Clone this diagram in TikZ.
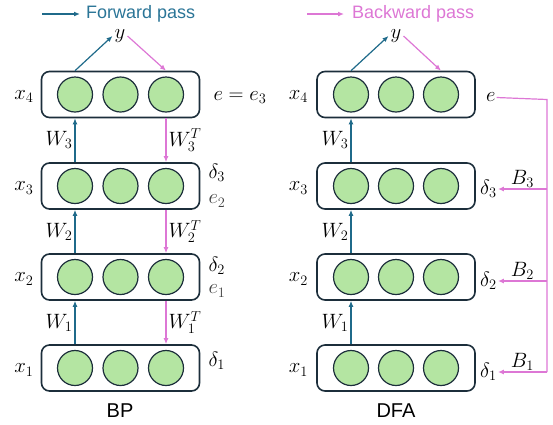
\documentclass[tikz,border=0pt]{standalone}
\usepackage{fontspec}
\setsansfont{Liberation Sans}
\usetikzlibrary{arrows.meta,positioning,calc}
\definecolor{fwd}{HTML}{1F6A8A}
\definecolor{fwdtxt}{HTML}{2B7597}
\definecolor{bwd}{HTML}{DD77D5}
\definecolor{cfill}{HTML}{B4E5A2}
\definecolor{edge}{HTML}{1C2E3B}
\definecolor{ecol}{HTML}{404040}
\begin{document}
\begin{tikzpicture}[x=1pt,y=-1pt,
  layer/.style={draw=edge,line width=1.6pt,rounded corners=8pt,minimum width=158pt,minimum height=46pt,inner sep=0pt},
  neuron/.style={circle,draw=edge,fill=cfill,line width=1.2pt,minimum size=35pt,inner sep=0pt},
  lbl/.style={font=\fontsize{20}{24}\selectfont,inner sep=1pt},
  fwdarr/.style={draw=fwd,line width=1.2pt,-{Latex[length=6pt,width=5pt]}},
  bwdarr/.style={draw=bwd,line width=1.2pt,-{Latex[length=6pt,width=5pt]}},
  bwdline/.style={draw=bwd,line width=1.2pt},
  ttl/.style={font=\sffamily\fontsize{18}{21}\selectfont,inner sep=0pt},
  captxt/.style={font=\sffamily\fontsize{20}{24}\selectfont,inner sep=0pt}]
\useasboundingbox (0,0) rectangle (553,424);

% layers
\foreach \i/\y in {4/94.5,3/186,2/277,1/368} {
  \node[layer] (L\i) at (120.5,\y) {};
  \node[neuron] (L\i-a) at (75,\y) {};
  \node[neuron] (L\i-b) at (120.5,\y) {};
  \node[neuron] (L\i-c) at (166,\y) {};
  \node[lbl,anchor=east] at ($(L\i.west)+(-6,2)$) {$x_\i$};
  \node[layer] (R\i) at (396,\y) {};
  \node[neuron] (R\i-a) at (351,\y) {};
  \node[neuron] (R\i-b) at (396,\y) {};
  \node[neuron] (R\i-c) at (441,\y) {};
  \node[lbl,anchor=east] at ($(R\i.west)+(-7,2)$) {$x_\i$};
}

% legend
\node[ttl,anchor=west,text=fwdtxt] (fp) at (86,14) {Forward pass};
\coordinate (fps) at (42,14);
\draw[fwdarr] (fps) -- ($(fp.west)+(-6,0)$);
\node[ttl,anchor=west,text=bwd] (bp) at (352,14) {Backward pass};
\coordinate (bps) at (307,14);
\draw[bwdarr] (bps) -- ($(bp.west)+(-8,0)$);

% outputs
\node[lbl,inner sep=2pt] (yL) at (120,36) {$y$};
\draw[fwdarr] (L4-a |- L4.north) -- (yL.west);
\draw[bwdarr] (yL.east) -- (L4-c |- L4.north);
\node[lbl,inner sep=2pt] (yR) at (396,36) {$y$};
\draw[fwdarr] (R4-a |- R4.north) -- (yR.west);
\draw[bwdarr] (yR.east) -- (R4-c |- R4.north);

% BP forward / backward
\draw[fwdarr] (L3-a |- L3.north) -- node[lbl,left=1pt] {$W_3$} (L4-a |- L4.south);
\draw[fwdarr] (L2-a |- L2.north) -- node[lbl,left=1pt] {$W_2$} (L3-a |- L3.south);
\draw[fwdarr] (L1-a |- L1.north) -- node[lbl,left=1pt] {$W_1$} (L2-a |- L2.south);
\draw[bwdarr] (L4-c |- L4.south) -- node[lbl,right=1pt] {$W_3^T$} (L3-c |- L3.north);
\draw[bwdarr] (L3-c |- L3.south) -- node[lbl,right=1pt] {$W_2^T$} (L2-c |- L2.north);
\draw[bwdarr] (L2-c |- L2.south) -- node[lbl,right=1pt] {$W_1^T$} (L1-c |- L1.north);

\node[lbl,anchor=west] at ($(L4.east)+(12,3)$) {$e = e_3$};
\node[lbl,anchor=west] at ($(L3.east)+(7,-13)$) {$\delta_3$};
\node[lbl,anchor=west,text=ecol] at ($(L3.east)+(7,15)$) {$e_2$};
\node[lbl,anchor=west] at ($(L2.east)+(7,-11)$) {$\delta_2$};
\node[lbl,anchor=west,text=ecol] at ($(L2.east)+(7,14)$) {$e_1$};
\node[lbl,anchor=west] at ($(L1.east)+(7,-7)$) {$\delta_1$};

% DFA forward
\draw[fwdarr] (R3-a |- R3.north) -- node[lbl,left=1pt] {$W_3$} (R4-a |- R4.south);
\draw[fwdarr] (R2-a |- R2.north) -- node[lbl,left=1pt] {$W_2$} (R3-a |- R3.south);
\draw[fwdarr] (R1-a |- R1.north) -- node[lbl,left=1pt] {$W_1$} (R2-a |- R2.south);

% DFA feedback
\node[lbl,anchor=west] (eR) at ($(R4.east)+(9,3)$) {$e$};
\node[lbl,anchor=west] (d3R) at (479,189) {$\delta_3$};
\node[lbl,anchor=west] (d2R) at (479,281) {$\delta_2$};
\node[lbl,anchor=west] (d1R) at (479,372) {$\delta_1$};
\coordinate (Bt) at (547,99.5);
\coordinate (Bb) at (Bt |- d1R);
\draw[bwdline] (eR.east) -- (Bt) -- (Bb);
\draw[bwdarr] (Bt |- d3R) -- node[lbl,above=0pt] {$B_3$} (d3R.east);
\draw[bwdarr] (Bt |- d2R) -- node[lbl,above=0pt] {$B_2$} (d2R.east);
\draw[bwdarr] (Bb) -- node[lbl,above=0pt] {$B_1$} (d1R.east);

% captions
\node[captxt] (bpc) at (120,411) {BP};
\node[captxt] (dfac) at (396,411) {DFA};
\end{tikzpicture}
\end{document}
